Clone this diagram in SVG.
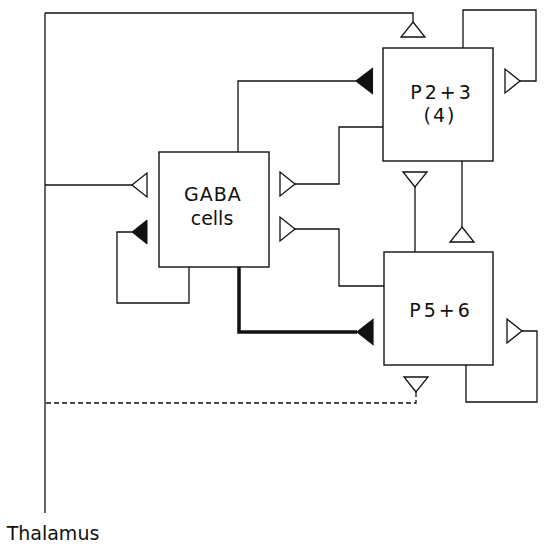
<svg xmlns="http://www.w3.org/2000/svg" width="551" height="548" viewBox="0 0 551 548">
<style>
.ln{fill:none;stroke:#111;stroke-width:1.3}
.thick{fill:none;stroke:#111;stroke-width:3.5}
.dash{fill:none;stroke:#111;stroke-width:1.3;stroke-dasharray:5,3}
.box{fill:#fff;stroke:#111;stroke-width:1.4}
.open{fill:#fff;stroke:#111;stroke-width:1.3}
.fill{fill:#111;stroke:#111;stroke-width:1}
text{font-family:"DejaVu Sans","Liberation Sans",sans-serif;font-size:19px;fill:#111;text-anchor:middle}
</style>
<defs>
<polygon id="tri" points="0,0 15,-12 15,12"/>
</defs>
<rect width="551" height="548" fill="#fff"/>
<g id="connectors">
<path class="ln" d="M45,13 V513"/>
<path class="ln" d="M45,13 H413 V22"/>
<path class="ln" d="M45,185 H132"/>
<path class="ln" d="M189,267 V303 H117 V232 H132"/>
<path class="ln" d="M238,152 V81 H356"/>
<path class="ln" d="M463,48 V10 H536 V81 H520"/>
<path class="ln" d="M383,127 H339 V184 H295"/>
<path class="ln" d="M415,252 V187"/>
<path class="ln" d="M462,161 V227"/>
<path class="ln" d="M384,286 H339 V229 H295"/>
<path class="thick" d="M239,267 V332 H357"/>
<path class="ln" d="M466,365 V402 H537 V331 H522"/>
<path class="dash" d="M416,392 V403 H45"/>
<use href="#tri" class="open" transform="translate(413,22) rotate(90)"/>
<use href="#tri" class="fill" transform="translate(356,81) scale(1.1,1.05)"/>
<use href="#tri" class="open" transform="translate(520,81) rotate(180)"/>
<use href="#tri" class="open" transform="translate(295,184) rotate(180)"/>
<use href="#tri" class="open" transform="translate(415,187) rotate(-90)"/>
<use href="#tri" class="open" transform="translate(462,227) rotate(90)"/>
<use href="#tri" class="open" transform="translate(295,229) rotate(180)"/>
<use href="#tri" class="open" transform="translate(132,185)"/>
<use href="#tri" class="fill" transform="translate(132,232)"/>
<use href="#tri" class="fill" transform="translate(357,332) scale(1.07,1.05)"/>
<use href="#tri" class="open" transform="translate(522,331) rotate(180)"/>
<use href="#tri" class="open" transform="translate(416,392) rotate(-90)"/>
</g>
<g id="gaba">
<rect class="box" x="159" y="152" width="110" height="115"/>
<text x="213" y="201" letter-spacing="1">GABA</text>
<text x="212" y="225">cells</text>
</g>
<g id="p23">
<rect class="box" x="383" y="48" width="110" height="113"/>
<text x="442" y="99" letter-spacing="3">P2+3</text>
<text x="440" y="122" letter-spacing="2">(4)</text>
</g>
<g id="p56">
<rect class="box" x="384" y="252" width="109" height="113"/>
<text x="441" y="317" letter-spacing="3">P5+6</text>
</g>
<g id="thalamus">
<text x="53" y="540">Thalamus</text>
</g>
</svg>
